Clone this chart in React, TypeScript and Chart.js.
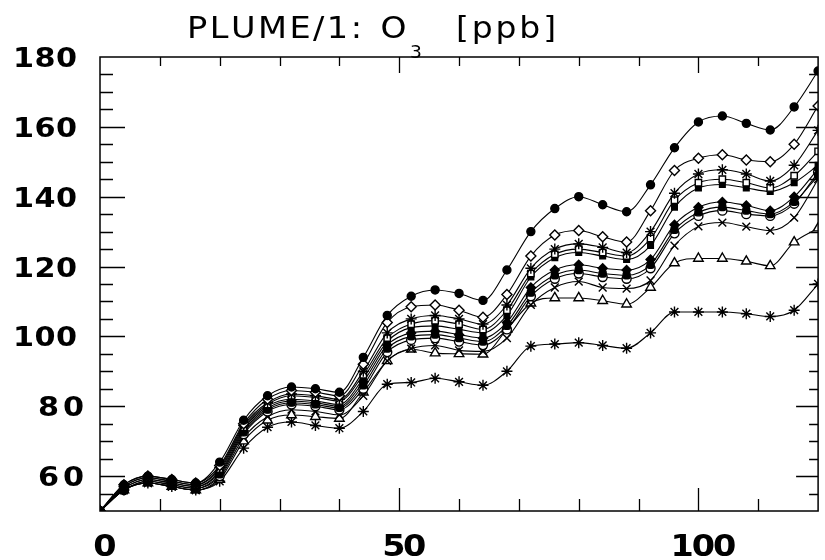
import React, { useEffect, useRef } from 'react';
import { Chart, registerables } from 'chart.js';

Chart.register(...registerables);

// ---- data (time in hours, O3 in ppb) ----
const HOURS = [0, 4, 8, 12, 16, 20, 24, 28, 32, 36, 40, 44, 48, 52, 56, 60, 64, 68, 72, 76, 80, 84, 88, 92, 96, 100, 104, 108, 112, 116, 120];

const S_CIRCLE = [50, 57.5, 60, 59, 58, 64, 76, 83, 85.5, 85, 84, 94, 106, 111.5, 113.3, 112.3, 110.3, 119, 130, 136.6, 140, 137.7, 135.7, 143.4, 154, 161.4, 163.1, 161, 159.1, 165.7, 176];
const S_DIAMOND = [50, 57.5, 60, 59, 58, 63, 75, 82, 84.5, 84, 83, 92, 104, 108.5, 109, 107.5, 105.5, 112, 123, 129, 130.3, 128.5, 127, 136, 147.5, 151, 152, 150.5, 150, 155, 166];
const S_STAR = [50, 57, 59.5, 58.5, 57.5, 62.5, 74.5, 81, 83.5, 83, 82, 90, 101, 105, 106, 105, 103.5, 109, 119.5, 125, 126.5, 125.5, 124, 130, 141, 146.5, 147.7, 146.5, 144.5, 149, 159];
const S_SQUARE = [50, 57, 59.5, 58.5, 57.5, 62, 74, 80.5, 83, 82.5, 81.5, 89, 99.5, 103.5, 104.5, 103.5, 102, 107.5, 118, 123.5, 125, 124, 123, 128, 139, 144, 145, 144, 142.5, 146, 153];
const S_FSQUARE = [50, 56.5, 59, 58, 57, 61.5, 73.5, 80, 82, 81.5, 80.5, 88, 98.5, 102.5, 103, 102, 101, 106, 117, 122.5, 124, 123, 122, 126, 137, 142.5, 143.5, 142.5, 141.5, 144, 149];
const S_FDIAMOND = [50, 56.5, 59, 58, 57, 61, 73, 79.5, 81.5, 81, 80, 87, 97.5, 101, 101.5, 100.5, 99.5, 104, 114, 119, 120.5, 119.5, 119, 122, 132, 137, 138.5, 137.5, 136, 140, 148];
const S_FROUND = [50, 56, 58.5, 57.5, 56.5, 60.5, 72.5, 79, 81, 80.5, 79.5, 86, 96.5, 100, 100.5, 99.5, 98.5, 103, 112.5, 117.5, 119, 118, 117.5, 120.5, 130.5, 135.5, 137, 136, 135, 138.5, 146];
const S_OCIRCLE = [50, 56, 58.5, 57.5, 56.5, 60, 72, 78.5, 80.5, 80, 79, 85, 95.5, 99, 99.5, 98.5, 97.5, 102, 111.5, 116.5, 118, 117, 116.5, 119.5, 129.5, 134.5, 136, 135, 134.5, 138, 147];
const S_CROSS = [50, 56, 58, 57, 56, 59.5, 71, 77, 79, 78.5, 77.5, 83, 93, 96.5, 97.4, 96, 95.7, 99.5, 109, 114, 115.7, 114, 113.7, 116, 126, 131.5, 132.6, 131.4, 130.3, 134, 145];
const S_TRIANGLE = [50, 56, 58, 57, 56, 59, 70, 76, 77.5, 77, 76.5, 84, 93, 96.3, 95.2, 95, 94.9, 102, 109.5, 111, 111, 110.2, 109.2, 114, 121, 122.3, 122.3, 121.5, 120.2, 127, 131];
const S_PLUS = [50, 56, 58, 57, 56, 58.5, 68, 74, 75.5, 74.5, 73.7, 78.5, 86.3, 86.8, 88, 87, 86, 90, 97.2, 97.8, 98.2, 97.4, 96.6, 101, 107, 107, 107, 106.5, 105.7, 107.5, 115];

// ---- axes ----
const X_MIN = 0;
const X_MAX = 120;
const Y_MIN = 50;
const Y_MAX = 180;
const X_TICKS = [10, 20, 30, 40, 50, 60, 70, 80, 90, 100, 110];
const X_LABELS = [0, 50, 100];
const Y_TICKS = [55, 60, 65, 70, 75, 80, 85, 90, 95, 100, 105, 110, 115, 120, 125, 130, 135, 140, 145, 150, 155, 160, 165, 170, 175];
const Y_LABELS = [60, 80, 100, 120, 140, 160, 180];

const TITLE_MAIN = 'PLUME/1:';
const TITLE_SPECIES = 'O';
const TITLE_SUB = '3';
const TITLE_UNIT = '[ppb]';

type SeriesDef = { data: number[]; style: string; fill: boolean; r: number };
const SERIES: SeriesDef[] = [
  { data: S_CIRCLE, style: 'circle', fill: true, r: 4 },
  { data: S_DIAMOND, style: 'rectRot', fill: false, r: 5 },
  { data: S_STAR, style: 'star', fill: false, r: 5.5 },
  { data: S_SQUARE, style: 'rect', fill: false, r: 4.5 },
  { data: S_FSQUARE, style: 'rect', fill: true, r: 4 },
  { data: S_FDIAMOND, style: 'rectRot', fill: true, r: 4.5 },
  { data: S_FROUND, style: 'rectRounded', fill: true, r: 4 },
  { data: S_OCIRCLE, style: 'circle', fill: false, r: 4.5 },
  { data: S_CROSS, style: 'crossRot', fill: false, r: 5.5 },
  { data: S_TRIANGLE, style: 'triangle', fill: false, r: 5.5 },
  { data: S_PLUS, style: 'star', fill: true, r: 5.5 },
];

const FONT = '"DejaVu Sans", "Liberation Sans", sans-serif';

// draws text so that its glyphs spread from x0 to x1 (ink advance), horizontally scaled
function drawSpread(ctx: CanvasRenderingContext2D, text: string, x0: number, x1: number, y: number, hScale = 1) {
  const chars = Array.from(text);
  const widths = chars.map((c) => ctx.measureText(c).width * hScale);
  const total = widths.reduce((a, b) => a + b, 0);
  const gap = chars.length > 1 ? (x1 - x0 - total) / (chars.length - 1) : 0;
  let x = chars.length > 1 ? x0 : (x0 + x1) / 2 - total / 2;
  chars.forEach((c, i) => {
    ctx.save();
    ctx.translate(x, y);
    ctx.scale(hScale, 1);
    ctx.fillText(c, 0, 0);
    ctx.restore();
    x += widths[i] + gap;
  });
}

const framePlugin = {
  id: 'plotFrame',
  afterDraw(chart: any) {
    const { ctx, chartArea: a, scales } = chart;
    const xs = scales.x;
    const ys = scales.y;
    ctx.save();
    ctx.strokeStyle = '#000';
    ctx.fillStyle = '#000';
    ctx.lineWidth = 1.5;
    ctx.strokeRect(a.left, a.top, a.right - a.left, a.bottom - a.top);

    ctx.lineWidth = 1.3;
    ctx.beginPath();
    for (const v of X_TICKS) {
      const px = Math.round(xs.getPixelForValue(v)) + 0.5;
      const major = X_LABELS.includes(v);
      ctx.moveTo(px, a.bottom);
      ctx.lineTo(px, a.bottom - (major ? 23 : 12));
      ctx.moveTo(px, a.top);
      ctx.lineTo(px, a.top + (major ? 16 : 9));
    }
    for (const v of Y_TICKS) {
      const py = Math.round(ys.getPixelForValue(v)) + 0.5;
      const major = Y_LABELS.includes(v);
      ctx.moveTo(a.left, py);
      ctx.lineTo(a.left + (major ? 25 : 13), py);
      ctx.moveTo(a.right, py);
      ctx.lineTo(a.right - (major ? 22 : 9), py);
    }
    ctx.stroke();

    // y labels
    ctx.textBaseline = 'alphabetic';
    ctx.font = `bold 27px ${FONT}`;
    for (const v of Y_LABELS) {
      const py = ys.getPixelForValue(v);
      const t = String(v);
      if (t.length >= 3) drawSpread(ctx, t, 13, 77, py + 10, 1.12);
      else drawSpread(ctx, t, 38, 84, py + 10, 1.12);
    }

    // x labels
    ctx.font = `bold 31px ${FONT}`;
    for (const v of X_LABELS) {
      const px = xs.getPixelForValue(v) + 5;
      const t = String(v);
      const w = 22 * t.length;
      drawSpread(ctx, t, px - w / 2, px + w / 2, 556, 1.08);
    }

    // title
    ctx.font = `30px ${FONT}`;
    drawSpread(ctx, TITLE_MAIN, 187, 362, 38, 1.12);
    drawSpread(ctx, TITLE_SPECIES, 378, 409, 38, 1.1);
    ctx.font = `17px ${FONT}`;
    drawSpread(ctx, TITLE_SUB, 409, 423, 58, 1.1);
    ctx.font = `30px ${FONT}`;
    drawSpread(ctx, TITLE_UNIT, 456, 556, 38, 1.1);

    ctx.restore();
  },
};

export default function App() {
  const ref = useRef<HTMLCanvasElement | null>(null);

  useEffect(() => {
    if (!ref.current) return;
    const datasets = SERIES.map((s, k) => ({
      label: `series ${k + 1}`,
      data: HOURS.map((h, i) => ({ x: h, y: s.data[i] })),
      borderColor: '#000',
      borderWidth: 1.1,
      backgroundColor: s.fill ? '#000' : '#fff',
      pointStyle: s.style,
      pointRadius: s.r,
      pointBorderWidth: 1.4,
      pointBorderColor: '#000',
      pointBackgroundColor: s.fill ? '#000' : '#fff',
      cubicInterpolationMode: 'monotone' as const,
      fill: false,
    }));
    const chart = new Chart(ref.current, {
      type: 'line',
      data: { datasets },
      options: {
        animation: false,
        responsive: true,
        maintainAspectRatio: false,
        layout: { padding: { left: 100, right: 4, top: 57, bottom: 49 } },
        plugins: {
          legend: { display: false },
          title: { display: false },
          tooltip: { enabled: false },
        },
        scales: {
          x: { type: 'linear', min: X_MIN, max: X_MAX, display: false },
          y: { type: 'linear', min: Y_MIN, max: Y_MAX, display: false },
        },
      },
      plugins: [framePlugin],
    });
    return () => chart.destroy();
  }, []);

  return (
    <div style={{ position: 'fixed', left: 0, top: 0, width: 825, height: 560, background: '#fff' }}>
      <canvas ref={ref} />
    </div>
  );
}
